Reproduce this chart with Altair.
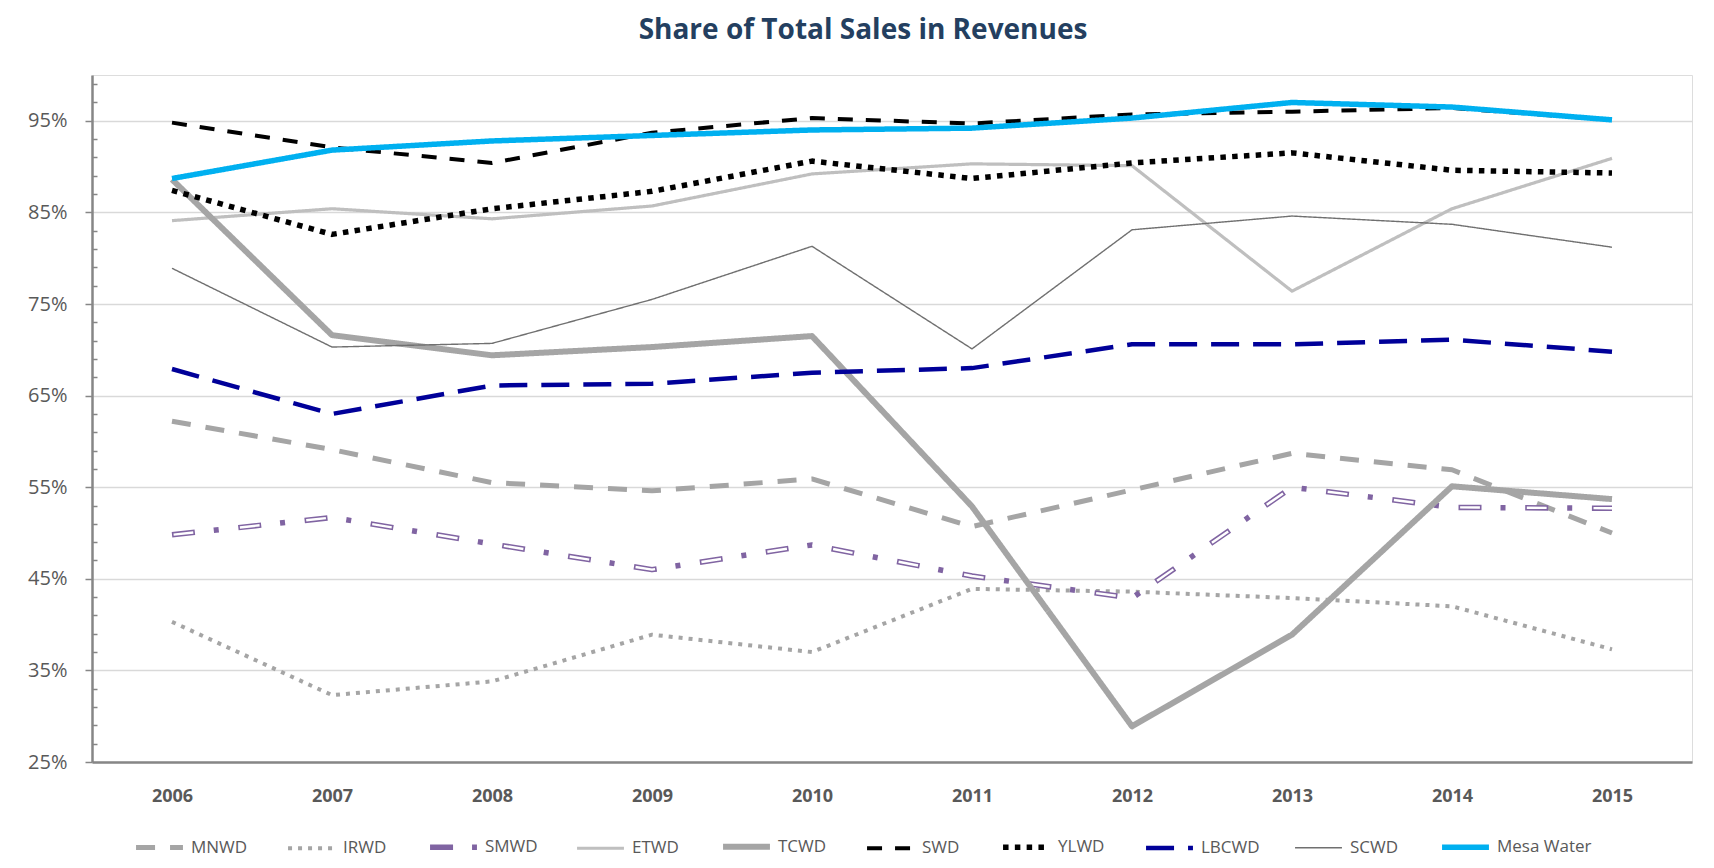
import altair as alt
import pandas as pd

years = ["2006", "2007", "2008", "2009", "2010", "2011", "2012", "2013", "2014", "2015"]
series = ["MNWD", "IRWD", "SMWD", "ETWD", "TCWD", "SWD", "YLWD", "LBCWD", "SCWD", "Mesa Water"]

mnwd = [62.2, 59.1, 55.5, 54.6, 55.9, 50.7, 54.7, 58.7, 56.9, 50.0]
irwd = [40.3, 32.3, 33.8, 38.9, 37.0, 43.9, 43.6, 42.9, 42.0, 37.3]
smwd = [49.8, 51.7, 48.8, 46.0, 48.7, 45.3, 42.9, 55.0, 52.8, 52.7]
etwd = [84.1, 85.4, 84.3, 85.7, 89.2, 90.3, 90.1, 76.4, 85.4, 90.9]
tcwd = [88.6, 71.6, 69.4, 70.3, 71.5, 52.9, 28.9, 38.9, 55.1, 53.7]
swd = [94.8, 92.1, 90.4, 93.7, 95.3, 94.7, 95.7, 96.0, 96.4, 95.1]
ylwd = [87.4, 82.6, 85.4, 87.3, 90.6, 88.7, 90.4, 91.5, 89.6, 89.3]
lbcwd = [67.9, 63.0, 66.1, 66.3, 67.5, 68.0, 70.6, 70.6, 71.1, 69.8]
scwd = [78.9, 70.3, 70.7, 75.5, 81.3, 70.1, 83.1, 84.6, 83.7, 81.2]
mesa = [88.7, 91.8, 92.8, 93.4, 94.0, 94.2, 95.3, 97.0, 96.5, 95.1]

values = [mnwd, irwd, smwd, etwd, tcwd, swd, ylwd, lbcwd, scwd, mesa]

colors = ["#A5A5A5", "#A5A5A5", "#8064A2", "#BFBFBF", "#A5A5A5",
          "#000000", "#000000", "#000099", "#707070", "#00B0F0"]
dashes = [[19, 15], [4, 6], [23, 19, 5, 19.7], [1, 0], [1, 0],
          [15, 13], [5.5, 6.3], [28, 14], [1, 0], [1, 0]]
widths = [5, 4, 5.5, 3.2, 6, 4, 5.5, 4.5, 1.4, 5.5]

rows = []
for s, vals in zip(series, values):
    for y, v in zip(years, vals):
        rows.append({"year": y, "series": s, "value": v / 100.0})
df = pd.DataFrame(rows)

tick_vals = [round(0.25 + 0.02 * i, 2) for i in range(38)]
major_test = "round(datum.value * 100) % 10 == 5"

font = "Open Sans"

x_enc = alt.X(
    "year:O",
    scale=alt.Scale(type="point", padding=0.5),
    axis=alt.Axis(
        title=None, labelAngle=0, ticks=False, grid=False,
        labelFont=font, labelFontSize=18, labelFontWeight="bold",
        labelColor="#595959", labelPadding=25,
        domainColor="#868686", domainWidth=2.5,
    ),
)
y_enc = alt.Y(
    "value:Q",
    scale=alt.Scale(domain=[0.25, 1.0], nice=False, zero=False),
    axis=alt.Axis(
        title=None, values=tick_vals, format=".0%",
        labelExpr=f"{major_test} ? datum.label : ''",
        labelFont=font, labelFontSize=20, labelColor="#595959",
        labelPadding=18,
        tickColor="#868686", tickWidth=1.5,
        tickSize={"condition": {"test": major_test, "value": 7}, "value": -5},
        gridColor="#D9D9D9", gridWidth=1.5,
        gridOpacity={"condition": {"test": major_test, "value": 1}, "value": 0},
        domainColor="#868686", domainWidth=2.5,
    ),
)

legend = alt.Legend(
    title=None, orient="none", legendX=41, legendY=745,
    direction="horizontal", columns=10,
    symbolType="stroke", symbolSize=2200, labelFont=font, labelFontSize=17,
    labelColor="#595959", columnPadding=32, labelOffset=5,
)

color_enc = alt.Color("series:N", scale=alt.Scale(domain=series, range=colors), legend=legend)
dash_enc = alt.StrokeDash("series:N", scale=alt.Scale(domain=series, range=dashes), legend=legend)
width_enc = alt.StrokeWidth(
    "series:N", scale=alt.Scale(type="ordinal", domain=series, range=widths), legend=legend
)

base = alt.Chart(df)

layers = []
for s in series:
    layer = base.transform_filter(alt.datum.series == s).mark_line(
        strokeCap="butt", strokeJoin="round"
    ).encode(x=x_enc, y=y_enc, color=color_enc, strokeDash=dash_enc, strokeWidth=width_enc)
    layers.append(layer)
    if s == "SMWD":
        hollow = base.transform_filter(alt.datum.series == s).mark_line(
            color="white", strokeWidth=2.4, strokeDash=[0, 1.6, 19.8, 45.3],
            strokeCap="butt", strokeJoin="round"
        ).encode(x=x_enc, y=y_enc)
        layers.append(hollow)

chart = alt.layer(*layers).properties(
    width=1600,
    height=687,
    autosize=alt.AutoSizeParams(type="none"),
    padding={"left": 84, "top": 67, "right": 14, "bottom": 97},
    title=alt.TitleParams(
        "Share of  Total Sales in Revenues", font=font, fontSize=28,
        fontWeight="bold", color="#243F60", anchor="middle", offset=30, dx=-29,
    ),
).configure_view(stroke="#A6A6A6", strokeWidth=1.5).configure(background="white")

chart.save("out.html", embed_options={"renderer": "svg", "actions": False})
